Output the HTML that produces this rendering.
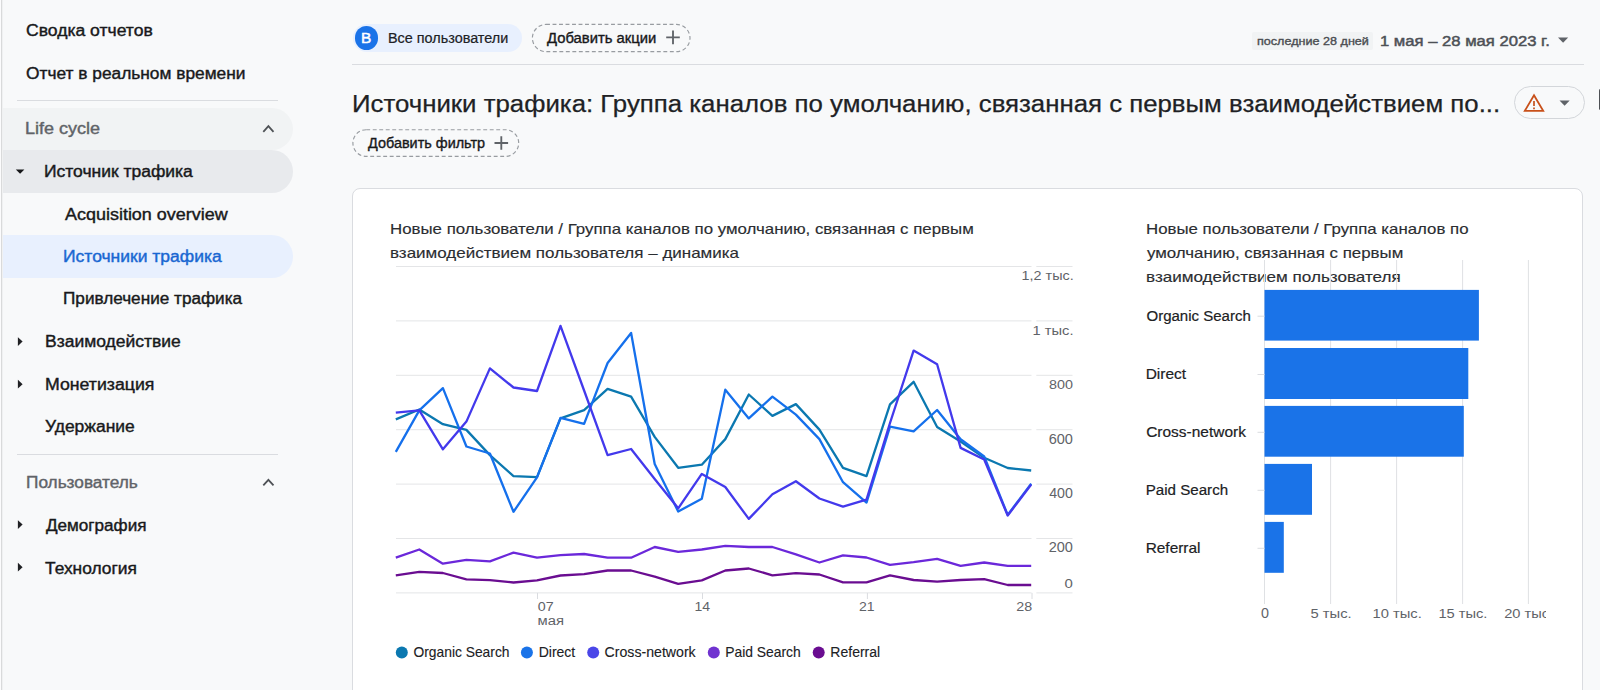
<!DOCTYPE html><html lang="ru"><head><meta charset="utf-8"><title>Источники трафика</title><style>
*{box-sizing:border-box}
html,body{margin:0;padding:0}
body{width:1600px;height:690px;overflow:hidden;position:relative;background:#f8f9fa;font-family:'Liberation Sans',sans-serif;color:#202124}
.t{position:absolute;white-space:pre;display:block;transform-origin:0 50%;margin:0;padding:0;font-weight:400}
.abs{position:absolute}
.edge{left:0;top:0;width:1px;height:690px;background:#fcfcfd}
.edgeline{left:1px;top:0;width:2px;height:690px;background:linear-gradient(90deg,#d9dadb 0,#d9dadb 50%,#f0f1f2 50%,#f0f1f2 100%)}
.sep{height:1px;background:#dadce0}
.row{left:3px;width:290px;height:42.6px;border-radius:0 21.3px 21.3px 0}
.chip{height:28px;border-radius:14px}
.dash{border:1px dashed #80868b}
.card{left:352px;top:188px;width:1231px;height:520px;background:#fff;border:1px solid #dadce0;border-radius:8px}
.chart{position:absolute;left:0;top:0}
.ico{position:absolute;overflow:visible}
</style></head><body>
<div class="abs edge"></div><div class="abs edgeline"></div>
<nav>
<div class="abs sep" style="left:17.3px;top:100.4px;width:260.7px"></div>
<div class="abs row" style="top:108.3px;height:41.5px;background:#f1f3f4"></div>
<div class="abs row" style="top:149.8px;height:42.8px;background:#e8eaed"></div>
<div class="abs row" style="top:235.2px;height:42.4px;background:#e8f0fe"></div>
<div class="abs sep" style="left:17.3px;top:453.6px;width:260.7px"></div>
<div class="t nav-item" style="left:26.00px;top:21px;font-size:16px;line-height:19px;color:#18191b;transform:scaleX(1.0969);-webkit-text-stroke:0.4px #18191b;">Сводка отчетов</div>
<div class="t nav-item" style="left:26.01px;top:64px;font-size:16px;line-height:19px;color:#18191b;transform:scaleX(1.0827);-webkit-text-stroke:0.4px #18191b;">Отчет в реальном времени</div>
<div class="t nav-item" style="left:25.42px;top:119px;font-size:16px;line-height:19px;color:#5f6368;transform:scaleX(1.1264);-webkit-text-stroke:0.4px #5f6368;">Life cycle</div>
<div class="t nav-item" style="left:44.26px;top:162px;font-size:16px;line-height:19px;color:#18191b;transform:scaleX(1.0923);-webkit-text-stroke:0.4px #18191b;">Источник трафика</div>
<div class="t nav-item" style="left:64.83px;top:205px;font-size:16px;line-height:19px;color:#18191b;transform:scaleX(1.1223);-webkit-text-stroke:0.4px #18191b;">Acquisition overview</div>
<div class="t nav-item" style="left:63.46px;top:247px;font-size:16px;line-height:19px;color:#1967d2;transform:scaleX(1.0932);-webkit-text-stroke:0.4px #1967d2;">Источники трафика</div>
<div class="t nav-item" style="left:63.48px;top:289px;font-size:16px;line-height:19px;color:#18191b;transform:scaleX(1.0725);-webkit-text-stroke:0.4px #18191b;">Привлечение трафика</div>
<div class="t nav-item" style="left:44.66px;top:332px;font-size:16px;line-height:19px;color:#18191b;transform:scaleX(1.0925);-webkit-text-stroke:0.4px #18191b;">Взаимодействие</div>
<div class="t nav-item" style="left:44.64px;top:375px;font-size:16px;line-height:19px;color:#18191b;transform:scaleX(1.1062);-webkit-text-stroke:0.4px #18191b;">Монетизация</div>
<div class="t nav-item" style="left:45.48px;top:417px;font-size:16px;line-height:19px;color:#18191b;transform:scaleX(1.0896);-webkit-text-stroke:0.4px #18191b;">Удержание</div>
<div class="t nav-item" style="left:25.87px;top:473px;font-size:16px;line-height:19px;color:#5f6368;transform:scaleX(1.0768);-webkit-text-stroke:0.4px #5f6368;">Пользователь</div>
<div class="t nav-item" style="left:45.75px;top:516px;font-size:16px;line-height:19px;color:#18191b;transform:scaleX(1.0681);-webkit-text-stroke:0.4px #18191b;">Демография</div>
<div class="t nav-item" style="left:45.48px;top:559px;font-size:16px;line-height:19px;color:#18191b;transform:scaleX(1.0862);-webkit-text-stroke:0.4px #18191b;">Технология</div>
<svg class="ico" style="left:0;top:0" width="300" height="690" viewBox="0 0 300 690"><path d="M15.8 169.4h8.6l-4.3 4.4z" fill="#17181a"/><path d="M17.9 337.2v8.8l4.7 -4.4z" fill="#202124"/><path d="M17.9 379.8v8.8l4.7 -4.4z" fill="#202124"/><path d="M17.9 520.2v8.8l4.7 -4.4z" fill="#202124"/><path d="M17.9 562.8v8.8l4.7 -4.4z" fill="#202124"/><path d="M263.3 131.8l5.1 -5.6l5.1 5.6" fill="none" stroke="#4f5256" stroke-width="1.8"/><path d="M263.3 485.4l5.1 -5.6l5.1 5.6" fill="none" stroke="#4f5256" stroke-width="1.8"/></svg>
</nav>
<header>
<div class="abs chip" style="left:353px;top:24px;width:169px;background:#e8f0fe"></div>
<div class="abs" style="left:354.7px;top:26.2px;width:23.4px;height:23.4px;border-radius:50%;background:#1a73e8"></div>
<span class="t" style="left:361.36px;top:28px;font-size:15.5px;line-height:19px;color:#ffffff;transform:scaleX(0.9943);-webkit-text-stroke:0.5px #ffffff;">B</span>
<span class="t" style="left:387.82px;top:29px;font-size:14px;line-height:18px;color:#202124;transform:scaleX(1.0287);-webkit-text-stroke:0.2px #202124;">Все пользователи</span>
<span class="t" style="left:547.25px;top:29px;font-size:14px;line-height:18px;color:#17181b;transform:scaleX(1.0576);-webkit-text-stroke:0.35px #17181b;">Добавить акции</span>
<div class="abs" style="left:1252px;top:31.8px;width:121.2px;height:18.2px;background:#f1f3f4;border-radius:2px"></div>
<span class="t" style="left:1256.50px;top:34px;font-size:11.5px;line-height:14px;color:#4a4d51;transform:scaleX(1.0950);-webkit-text-stroke:0.35px #4a4d51;">последние 28 дней</span>
<span class="t" style="left:1379.68px;top:31px;font-size:15.5px;line-height:19px;color:#4d5156;transform:scaleX(1.0731);-webkit-text-stroke:0.5px #4d5156;">1 мая – 28 мая 2023 г.</span>
<div class="abs sep" style="left:352.4px;top:64px;width:1231.2px"></div>
<h1 class="t page-title" style="left:351.56px;top:89px;font-size:24.7px;line-height:29px;color:#202124;transform:scaleX(1.0447);-webkit-text-stroke:0.25px #202124;">Источники трафика: Группа каналов по умолчанию, связанная с первым взаимодействием по...</h1>
<span class="t" style="left:367.65px;top:134px;font-size:14px;line-height:18px;color:#17181b;transform:scaleX(1.0305);-webkit-text-stroke:0.35px #17181b;">Добавить фильтр</span>
<div class="abs" style="left:1514px;top:86px;width:70.5px;height:33px;border:1px solid #d3d6da;border-radius:16.5px"></div>
<div class="abs" style="left:1598.6px;top:89px;width:3px;height:21px;background:#4d5054;border-radius:1.5px 0 0 1.5px"></div>
<svg class="ico" style="left:0;top:0" width="1600" height="190" viewBox="0 0 1600 190"><rect x="532.4" y="24.4" width="157.6" height="27.3" rx="13.65" fill="none" stroke="#989ca1" stroke-width="1.15" stroke-dasharray="3.9 2.6"/><rect x="352.9" y="129.7" width="165.8" height="26.7" rx="13.35" fill="none" stroke="#989ca1" stroke-width="1.15" stroke-dasharray="3.9 2.6"/><path d="M673 30.6v13.6M666.2 37.4h13.6" stroke="#5f6368" stroke-width="1.85" fill="none"/><path d="M501.3 136.2v13.6M494.5 143h13.6" stroke="#5f6368" stroke-width="1.85" fill="none"/><path d="M1558 37.5h10.2l-5.1 5.2z" fill="#5f6368"/><path d="M1559.5 100.5h10.2l-5.1 5.2z" fill="#5f6368"/><path d="M1534 95.3L1543.2 110.8H1524.8Z" fill="none" stroke="#c8501a" stroke-width="1.8" stroke-linejoin="miter"/><path d="M1534 101v5M1534 107.6v1.6" stroke="#c5511c" stroke-width="1.7" fill="none"/></svg>
</header>
<main>
<div class="abs card"></div>
<div class="t card-title" style="left:389.95px;top:219px;font-size:15px;line-height:19px;color:#2b2d31;transform:scaleX(1.1233);-webkit-text-stroke:0.15px #2b2d31;">Новые пользователи / Группа каналов по умолчанию, связанная с первым</div>
<div class="t card-title" style="left:390.02px;top:243px;font-size:15px;line-height:19px;color:#2b2d31;transform:scaleX(1.1330);-webkit-text-stroke:0.15px #2b2d31;">взаимодействием пользователя – динамика</div>
<div class="t card-title" style="left:1146.05px;top:219px;font-size:15px;line-height:19px;color:#2b2d31;transform:scaleX(1.1213);-webkit-text-stroke:0.15px #2b2d31;">Новые пользователи / Группа каналов по</div>
<div class="t card-title" style="left:1146.85px;top:243px;font-size:15px;line-height:19px;color:#2b2d31;transform:scaleX(1.1247);-webkit-text-stroke:0.15px #2b2d31;">умолчанию, связанная с первым</div>
<div class="t card-title" style="left:1146.31px;top:267px;font-size:15px;line-height:19px;color:#2b2d31;transform:scaleX(1.1387);-webkit-text-stroke:0.15px #2b2d31;">взаимодействием пользователя</div>
<svg class="chart" width="1600" height="690" viewBox="0 0 1600 690" font-family="Liberation Sans, sans-serif">
<path d="M396 266.5H1031.5M1036.3 266.5H1072.5" stroke="#e4e5e7" stroke-width="1" fill="none"/>
<path d="M396 320.9H1031.5M1036.3 320.9H1072.5" stroke="#e4e5e7" stroke-width="1" fill="none"/>
<path d="M396 375.3H1031.5M1036.3 375.3H1072.5" stroke="#e4e5e7" stroke-width="1" fill="none"/>
<path d="M396 429.7H1031.5M1036.3 429.7H1072.5" stroke="#e4e5e7" stroke-width="1" fill="none"/>
<path d="M396 484.1H1031.5M1036.3 484.1H1072.5" stroke="#e4e5e7" stroke-width="1" fill="none"/>
<path d="M396 538.5H1031.5M1036.3 538.5H1072.5" stroke="#e4e5e7" stroke-width="1" fill="none"/>
<path d="M396 592.9H1031.5M1036.3 592.9H1072.5" stroke="#e4e5e7" stroke-width="1" fill="none"/>
<path d="M537.5 592.9V599" stroke="#dadce0" stroke-width="1" fill="none"/>
<path d="M702.5 592.9V599" stroke="#dadce0" stroke-width="1" fill="none"/>
<path d="M867.4 592.9V599" stroke="#dadce0" stroke-width="1" fill="none"/>
<path d="M1032.0 592.9V599" stroke="#dadce0" stroke-width="1" fill="none"/>
<polyline points="395.8,419.4 419.3,409.5 442.9,424.2 466.4,429.9 489.9,455.1 513.5,476.1 537.0,477.1 560.5,418.4 584.1,410.1 607.6,388.8 631.1,396.7 654.7,436.9 678.2,467.8 701.8,464.7 725.3,439.1 748.8,394.5 772.4,415.9 795.9,404.1 819.4,429.6 843.0,467.8 866.5,476.1 890.0,404.4 913.6,381.8 937.1,427.0 960.6,441.6 984.2,457.7 1007.7,468.0 1031.2,470.5" fill="none" stroke="#0b78b0" stroke-width="2.3" stroke-linejoin="round"/>
<polyline points="395.8,451.9 419.3,410.4 442.9,388.1 466.4,446.5 489.9,453.5 513.5,511.8 537.0,477.4 560.5,417.8 584.1,423.8 607.6,363.0 631.1,333.0 654.7,464.0 678.2,511.5 701.8,498.8 725.3,389.7 748.8,418.4 772.4,396.7 795.9,414.6 819.4,439.1 843.0,482.2 866.5,502.6 890.0,426.7 913.6,431.3 937.1,410.0 960.6,439.3 984.2,456.5 1007.7,514.9 1031.2,483.6" fill="none" stroke="#1570ec" stroke-width="2.3" stroke-linejoin="round"/>
<polyline points="395.8,412.7 419.3,410.4 442.9,449.3 466.4,421.6 489.9,368.4 513.5,387.5 537.0,391.0 560.5,325.9 584.1,390.5 607.6,455.1 631.1,449.0 654.7,479.0 678.2,508.3 701.8,473.9 725.3,487.0 748.8,518.9 772.4,494.3 795.9,481.2 819.4,498.5 843.0,506.7 866.5,499.7 890.0,423.0 913.6,350.6 937.1,364.2 960.6,447.9 984.2,459.5 1007.7,515.5 1031.2,484.5" fill="none" stroke="#4339ec" stroke-width="2.3" stroke-linejoin="round"/>
<polyline points="395.8,557.7 419.3,549.5 442.9,563.7 466.4,559.8 489.9,561.3 513.5,552.6 537.0,557.7 560.5,555.1 584.1,554.0 607.6,557.7 631.1,557.7 654.7,547.0 678.2,551.8 701.8,549.5 725.3,545.8 748.8,547.0 772.4,547.0 795.9,554.4 819.4,562.5 843.0,555.3 866.5,557.5 890.0,564.8 913.6,562.1 937.1,558.8 960.6,565.8 984.2,562.5 1007.7,565.8 1031.2,565.8" fill="none" stroke="#6b28da" stroke-width="2.3" stroke-linejoin="round"/>
<polyline points="395.8,575.3 419.3,571.8 442.9,573.0 466.4,579.4 489.9,580.2 513.5,582.5 537.0,580.4 560.5,575.5 584.1,574.2 607.6,570.5 631.1,570.5 654.7,576.7 678.2,583.9 701.8,580.4 725.3,570.5 748.8,568.5 772.4,575.3 795.9,573.2 819.4,574.5 843.0,582.3 866.5,582.3 890.0,575.3 913.6,580.0 937.1,581.7 960.6,580.0 984.2,579.2 1007.7,585.0 1031.2,585.0" fill="none" stroke="#6a0d91" stroke-width="2.3" stroke-linejoin="round"/>
<circle cx="401.8" cy="652.4" r="6" fill="#0b78b0"/>
<circle cx="526.9" cy="652.4" r="6" fill="#1a73e8"/>
<circle cx="593.2" cy="652.4" r="6" fill="#4a46e8"/>
<circle cx="713.8" cy="652.4" r="6" fill="#7033d0"/>
<circle cx="818.7" cy="652.4" r="6" fill="#6a0d91"/>
<path d="M1264.5 260V604" stroke="#dfe1e4" stroke-width="1" fill="none"/>
<path d="M1330.6 260V604" stroke="#dfe1e4" stroke-width="1" fill="none"/>
<path d="M1396.6 260V604" stroke="#dfe1e4" stroke-width="1" fill="none"/>
<path d="M1462.6 260V604" stroke="#dfe1e4" stroke-width="1" fill="none"/>
<path d="M1528.4 260V604" stroke="#dfe1e4" stroke-width="1" fill="none"/>
<rect x="1264.5" y="289.9" width="214.4" height="50.7" fill="#1a73e8"/>
<path d="M1257.5 316.2H1264.5" stroke="#dadce0" stroke-width="1" fill="none"/>
<rect x="1264.5" y="348.0" width="203.8" height="51.0" fill="#1a73e8"/>
<path d="M1257.5 374.5H1264.5" stroke="#dadce0" stroke-width="1" fill="none"/>
<rect x="1264.5" y="405.9" width="199.3" height="50.8" fill="#1a73e8"/>
<path d="M1257.5 432.3H1264.5" stroke="#dadce0" stroke-width="1" fill="none"/>
<rect x="1264.5" y="463.9" width="47.5" height="50.9" fill="#1a73e8"/>
<path d="M1257.5 490.3H1264.5" stroke="#dadce0" stroke-width="1" fill="none"/>
<rect x="1264.5" y="521.9" width="19.3" height="50.9" fill="#1a73e8"/>
<path d="M1257.5 548.3H1264.5" stroke="#dadce0" stroke-width="1" fill="none"/>
<clipPath id="cl"><rect x="1100" y="600" width="445.9" height="30"/></clipPath>
<text transform="translate(1021.60 280.4) scale(1.0497 1)" font-size="13.7" fill="#5f6368">1,2 тыс.</text>
<text transform="translate(1032.58 334.8) scale(1.0722 1)" font-size="13.7" fill="#5f6368">1 тыс.</text>
<text transform="translate(1048.93 389.2) scale(1.0483 1)" font-size="13.7" fill="#5f6368">800</text>
<text transform="translate(1048.65 443.6) scale(1.0605 1)" font-size="13.7" fill="#5f6368">600</text>
<text transform="translate(1049.19 498.0) scale(1.0364 1)" font-size="13.7" fill="#5f6368">400</text>
<text transform="translate(1048.65 552.4) scale(1.0605 1)" font-size="13.7" fill="#5f6368">200</text>
<text transform="translate(1064.50 588.0) scale(1.0923 1)" font-size="13.7" fill="#5f6368">0</text>
<text transform="translate(537.73 610.8) scale(1.0429 1)" font-size="13.7" fill="#5f6368">07</text>
<text transform="translate(537.57 625.2) scale(1.0800 1)" font-size="13.7" fill="#5f6368">мая</text>
<text transform="translate(694.42 610.8) scale(1.0255 1)" font-size="13.7" fill="#5f6368">14</text>
<text transform="translate(858.98 610.8) scale(1.0255 1)" font-size="13.7" fill="#5f6368">21</text>
<text transform="translate(1016.27 610.8) scale(1.0429 1)" font-size="13.7" fill="#5f6368">28</text>
<text transform="translate(413.46 657.0) scale(0.9885 1)" font-size="14" fill="#202124" stroke="#202124" stroke-width="0.12">Organic Search</text>
<text transform="translate(538.65 657.0) scale(1.0028 1)" font-size="14" fill="#202124" stroke="#202124" stroke-width="0.12">Direct</text>
<text transform="translate(604.59 657.0) scale(1.0101 1)" font-size="14" fill="#202124" stroke="#202124" stroke-width="0.12">Cross-network</text>
<text transform="translate(725.16 657.0) scale(0.9919 1)" font-size="14" fill="#202124" stroke="#202124" stroke-width="0.12">Paid Search</text>
<text transform="translate(830.35 657.0) scale(1.0000 1)" font-size="14" fill="#202124" stroke="#202124" stroke-width="0.12">Referral</text>
<text transform="translate(1146.46 320.5) scale(0.9890 1)" font-size="15.2" fill="#202124" stroke="#202124" stroke-width="0.2">Organic Search</text>
<text transform="translate(1145.67 378.7) scale(1.0208 1)" font-size="15.2" fill="#202124" stroke="#202124" stroke-width="0.2">Direct</text>
<text transform="translate(1146.19 436.6) scale(1.0180 1)" font-size="15.2" fill="#202124" stroke="#202124" stroke-width="0.2">Cross-network</text>
<text transform="translate(1145.70 494.6) scale(0.9969 1)" font-size="15.2" fill="#202124" stroke="#202124" stroke-width="0.2">Paid Search</text>
<text transform="translate(1145.68 552.6) scale(1.0145 1)" font-size="15.2" fill="#202124" stroke="#202124" stroke-width="0.2">Referral</text>
<text transform="translate(1260.93 617.8) scale(1.0462 1)" font-size="13.7" fill="#5f6368">0</text>
<text transform="translate(1310.54 617.8) scale(1.0786 1)" font-size="13.7" fill="#5f6368">5 тыс.</text>
<text transform="translate(1372.47 617.8) scale(1.0759 1)" font-size="13.7" fill="#5f6368">10 тыс.</text>
<text transform="translate(1438.38 617.8) scale(1.0713 1)" font-size="13.7" fill="#5f6368">15 тыс.</text>
<g clip-path="url(#cl)"><text transform="translate(1504.15 617.8) scale(1.0697 1)" font-size="13.7" fill="#5f6368">20 тыс.</text></g>
</svg>
</main>
</body></html>
